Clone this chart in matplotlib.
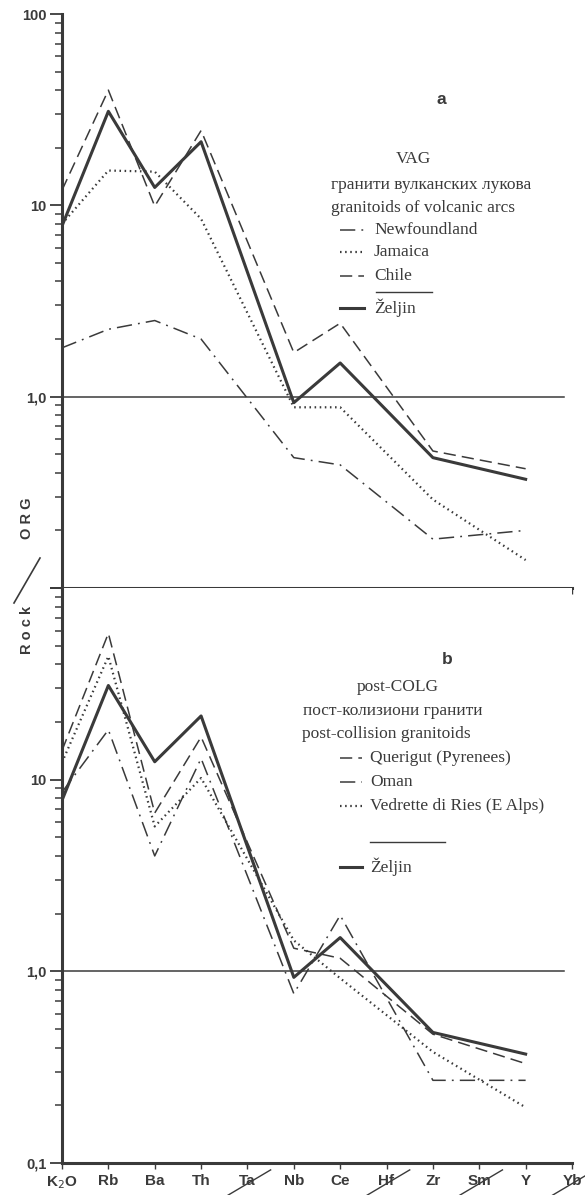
import numpy as np
import matplotlib.pyplot as plt
from matplotlib.ticker import LogLocator, FixedLocator, NullFormatter
from matplotlib.lines import Line2D

# elements along the x axis; crossed-out ones were not analysed
elements = ['K$_2$O', 'Rb', 'Ba', 'Th', 'Ta', 'Nb', 'Ce', 'Hf', 'Zr', 'Sm', 'Y', 'Yb']
crossed = ['Ta', 'Hf', 'Sm', 'Yb']
measured = ['K$_2$O', 'Rb', 'Ba', 'Th', 'Nb', 'Ce', 'Zr', 'Y']

# Rock / ORG values at the measured elements
zeljin = [7.8, 31.0, 12.4, 21.5, 0.93, 1.50, 0.48, 0.37]

# a) VAG - volcanic arc granitoids
newfoundland = [1.8, 2.25, 2.5, 2.0, 0.48, 0.44, 0.18, 0.20]
jamaica = [8.0, 15.2, 15.0, 8.5, 0.88, 0.88, 0.29, 0.14]
chile = [12.0, 40.0, 9.9, 24.6, 1.70, 2.42, 0.52, 0.42]

# b) post-COLG - post-collision granitoids
querigut = [14.2, 58.0, 6.7, 16.7, 1.32, 1.17, 0.47, 0.33]
oman = [8.6, 18.2, 4.0, 12.9, 0.765, 1.96, 0.27, 0.27]
vedrette = [12.3, 44.0, 5.7, 10.2, 1.45, 0.92, 0.38, 0.195]

INK = '#3a3a3a'
W, H = 585, 1195
plt.rcParams['font.family'] = ['Liberation Sans', 'DejaVu Sans']

fig = plt.figure(figsize=(W / 100, H / 100), dpi=100)
fig.patch.set_facecolor('white')


def px(x, y):
    return x / W, 1 - y / H


xpos = [elements.index(e) for e in measured]
left, right = 62 / W, 572 / W
ax1 = fig.add_axes([left, 1 - 588 / H, right - left, (588 - 14) / H])
ax2 = fig.add_axes([left, 1 - 1163 / H, right - left, (1163 - 588) / H])

styles = {
    'solid': dict(lw=2.2, ls='-'),
    'dash': dict(lw=1.1, ls=(0, (8, 4))),
    'dot': dict(lw=1.6, ls=(0, (0.7, 1.6))),
    'dashdot': dict(lw=1.1, ls=(0, (10, 4, 1.2, 4))),
}

for ax in (ax1, ax2):
    ax.set_yscale('log')
    ax.set_ylim(0.1, 100)
    ax.set_xlim(0, 11)
    for s in ('top', 'right'):
        ax.spines[s].set_visible(False)
    ax.spines['left'].set_linewidth(2.2)
    ax.spines['left'].set_color(INK)
    ax.spines['bottom'].set_linewidth(2.2)
    ax.spines['bottom'].set_color(INK)
    ax.yaxis.set_major_locator(FixedLocator([0.1, 1, 10, 100]))
    ax.yaxis.set_minor_locator(LogLocator(base=10, subs=np.arange(2, 10)))
    ax.yaxis.set_minor_formatter(NullFormatter())
    ax.tick_params(axis='y', which='major', length=9, width=1.3, color=INK,
                   labelsize=10.5, labelcolor=INK, pad=2)
    ax.tick_params(axis='y', which='minor', length=5, width=1.1, color=INK)
    ax.set_xticks(range(len(elements)))
    ax.tick_params(axis='x', length=4, width=1, color=INK)
    ax.axhline(1.0, xmin=0, xmax=0.985, color=INK, lw=1.1)

ax1.set_yticklabels(['', '1,0', '10', '100'], fontweight='bold')
ax1.set_xticklabels([])
ax2.set_yticklabels(['0,1', '1,0', '10', ''], fontweight='bold')
ax2.set_xticklabels(elements, fontweight='bold', fontsize=11, color=INK)
ax2.tick_params(axis='x', pad=4)

# strike through the elements without data
for e in crossed:
    i = elements.index(e)
    ax2.plot([i - 0.42, i + 0.5], [-0.056, -0.012], color=INK, lw=1.0,
             transform=ax2.get_xaxis_transform(), clip_on=False)

ax1.plot(xpos, newfoundland, color=INK, **styles['dashdot'])
ax1.plot(xpos, jamaica, color=INK, **styles['dot'])
ax1.plot(xpos, chile, color=INK, **styles['dash'])
ax1.plot(xpos, zeljin, color=INK, **styles['solid'])

ax2.plot(xpos, querigut, color=INK, **styles['dash'])
ax2.plot(xpos, oman, color=INK, **styles['dashdot'])
ax2.plot(xpos, vedrette, color=INK, **styles['dot'])
ax2.plot(xpos, zeljin, color=INK, **styles['solid'])

# panel letters
fig.text(*px(441, 100), 'a', fontsize=12.5, fontweight='bold', color=INK,
         ha='center', va='center')
fig.text(*px(447, 660), 'b', fontsize=12.5, fontweight='bold', color=INK,
         ha='center', va='center')

# legends
serif = ['Liberation Serif', 'DejaVu Serif']
kw = dict(family=serif, fontsize=12.5, color=INK, va='center')


def sample(x0, x1, y, style):
    fig.add_artist(Line2D([x0 / W, x1 / W], [1 - y / H, 1 - y / H],
                          color=INK, **styles[style]))


fig.text(*px(413, 159), 'VAG', ha='center', **kw)
fig.text(*px(331, 185), 'гранити вулканских лукова', ha='left', **kw)
fig.text(*px(331, 208), 'granitoids of volcanic arcs', ha='left', **kw)
top_entries = [('dashdot', 'Newfoundland', 230), ('dot', 'Jamaica', 252),
               ('dash', 'Chile', 276), ('solid', 'Željin', 308)]
for style, name, y in top_entries:
    sample(340, 364, y, style)
    fig.text(*px(374, y), name, ha='left', **kw)
fig.add_artist(Line2D([376 / W, 432 / W], [1 - 292 / H] * 2, color=INK, lw=1))

fig.text(*px(357, 687), 'post-COLG', ha='left', **kw)
fig.text(*px(303, 711), 'пост-колизиони гранити', ha='left', **kw)
fig.text(*px(302, 734), 'post-collision granitoids', ha='left', **kw)
bot_entries = [('dash', 'Querigut (Pyrenees)', 758), ('dashdot', 'Oman', 782),
               ('dot', 'Vedrette di Ries (E Alps)', 806), ('solid', 'Željin', 867)]
for style, name, y in bot_entries:
    sample(340, 362, y, style)
    fig.text(*px(370, y), name, ha='left', **kw)
fig.add_artist(Line2D([370 / W, 445 / W], [1 - 842 / H] * 2, color=INK, lw=1))

# y axis title
ykw = dict(fontsize=10.5, fontweight='bold', color=INK, rotation=90,
           ha='center', va='center')
fig.text(*px(27, 630), 'R o c k', **ykw)
fig.text(*px(27, 518), 'O R G', **ykw)
fig.add_artist(Line2D([14 / W, 40 / W], [1 - 603 / H, 1 - 558 / H],
                      color=INK, lw=1.2))

fig.savefig('out.png', dpi=100, facecolor='white')
